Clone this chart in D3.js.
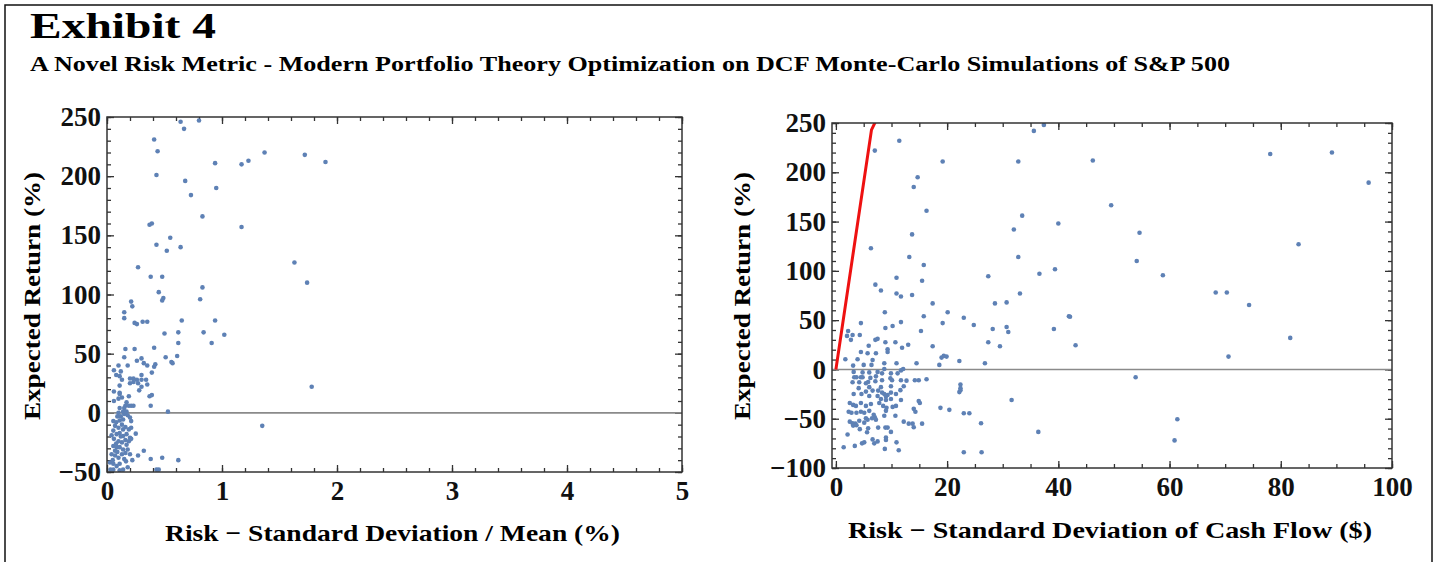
<!DOCTYPE html>
<meta charset="utf-8">
<style>
body { margin: 0; background: #fff; }
svg { font-family: "Liberation Serif", "Times New Roman", serif; }
.tick text { font-family: "Liberation Serif", "Times New Roman", serif; font-weight: bold; font-size: 27px; fill: #111; }
.frame { fill: none; stroke: #333; stroke-width: 1.5; }
.tick line { stroke: #333; stroke-width: 1.3; }
.dot { fill: #5e81b5; }
</style>
<svg width="1438" height="562"></svg>
<script src="https://d3js.org/d3.v7.min.js"></script>
<script>

// left panel: risk = std dev / mean (%), expected return (%)
var leftPoints = [
  [0.64,246],[0.80,247],[0.67,240],[0.41,231],[0.44,221],[1.37,220],[1.72,218],[1.23,213],[1.17,210],[0.94,211],
  [1.90,212],[0.43,201],[0.68,196],[0.95,190],[0.73,184],[0.83,166],[1.17,157],[0.37,159],[0.39,160],[0.55,148],
  [0.43,142],[0.52,137],[0.64,140],[1.63,127],[0.27,123],[0.38,115],[0.48,115],[1.74,110],[0.83,106],[0.45,102],
  [0.81,96],[0.49,97],[0.48,95],[0.21,94],[0.22,90],[0.15,85],[0.15,80],[0.24,76],[0.26,75],[0.31,77],
  [0.35,77],[0.65,78],[0.94,78],[0.50,67],[0.62,68],[0.84,68],[1.02,66],[0.62,59],[0.91,59],[0.16,54],
  [0.24,54],[0.41,55],[0.15,47],[0.51,47],[0.61,48],[0.56,43],[0.57,42],[0.26,44],[0.30,46],[0.32,42],
  [0.06,36],[0.10,40],[0.12,35],[0.18,40],[0.35,40],[0.41,39],[0.42,41],[0.39,34],[0.08,32],[0.11,31],
  [0.13,28],[0.20,29],[0.23,29],[0.26,28],[0.27,25],[0.20,25],[0.23,26],[0.30,32],[0.30,28],[0.34,28],
  [0.35,24],[0.30,22],[0.28,19],[0.06,18],[0.11,23],[0.11,17],[0.11,16],[0.13,13],[0.10,12],[0.19,14],
  [0.39,15],[0.37,14],[0.17,9],[0.16,6],[0.19,6],[0.21,6],[0.23,6],[0.11,4],[0.15,4],[0.38,6],
  [0.06,10],[0.53,1],[0.14,1],[0.12,-3],[0.15,-1],[0.17,1],[0.10,0],[1.35,-11],[1.78,22],
  [0.055,-7],[0.08,-8],[0.11,-6.5],[0.14,-5.6],[0.18,-2],[0.20,-4],[0.21,-7],
  [0.07,-11],[0.10,-12.6],[0.13,-10],[0.16,-12],[0.19,-14],[0.21,-12.6],
  [0.055,-15],[0.084,-18],[0.11,-17],[0.14,-19.6],[0.17,-18],[0.20,-21],[0.25,-17.6],
  [0.06,-22],[0.10,-24],[0.13,-25],[0.16,-23],[0.19,-24],[0.21,-22],
  [0.055,-28],[0.084,-29],[0.11,-29],[0.14,-31],[0.17,-27],[0.07,-32],[0.32,-32],
  [0.04,-35],[0.07,-36],[0.10,-38],[0.13,-35],[0.16,-34],[0.27,-36],[0.22,-40],
  [0.38,-39],[0.48,-38],[0.62,-40],
  [0.026,-42],[0.055,-43],[0.084,-45],[0.11,-43],[0.165,-41],[0.18,-46],[0.14,-48],[0.055,-48],[0.11,-48.5],
  [0.43,-48],[0.45,-48],[0.03,-48],
  [0.09,-3],[0.04,-19],[0.09,-33],[0.15,-39],[0.12,-20],[0.18,-31],[0.05,-40],[0.20,-35],[0.08,-26],[0.14,-14]
];

// right panel: risk = std dev of cash flow ($), expected return (%)
var rightPoints = [
  [35.6,242],[37.4,248],[11.4,232],[7.0,222],[19.2,211],[32.8,211],[14.7,195],[14.0,185],[16.3,161],[33.5,156],
  [32.0,142],[40.0,148],[13.7,137],[6.3,123],[13.2,114],[32.8,114],[15.8,106],[27.4,94.5],[36.6,97],[39.4,101.6],
  [15.5,90],[10.9,93],[7.1,86],[8.1,80],[10.9,77],[11.7,74],[13.7,75.5],[33.1,77],[17.4,67],[28.6,67],[30.7,68],
  [8.8,58],[20.1,58],[15.8,54],[23.0,52.5],[4.5,47],[11.7,48],[19.2,47],[24.8,45],[8.9,42],[10.2,44],
  [30.7,43],[31.0,38],[28.2,41],[39.2,41],[41.9,54],[2.2,39],[3.0,35],[4.3,35],[2.0,34],[2.7,30],
  [15.3,39],[7.1,30],[7.5,31],[5.9,24],[8.9,27.6],[10.7,27.6],[13.0,25],[11.9,22],[9.3,20.5],[9.3,17.7],
  [17.4,23.5],[27.4,27.6],[29.5,23.5],[4.5,17.7],[5.7,16.4],[7.2,16.4],[3.9,10.3],[6.6,9.6],[6.4,4.6],[5.0,4.6],
  [3.1,3.9],[10.9,6.3],[14.5,6.3],[19.0,12],[19.4,13.7],[19.9,13],[18.6,4.6],[22.2,8.6],[26.8,6.3],[1.7,10.3],[8.7,6.3],
  [46.2,212],[78.1,218.6],[89.2,220],[95.8,189.5],[49.5,166.5],[54.6,138.7],[83.2,127],[54.1,110],[58.8,95.5],
  [68.3,78],[70.3,78],[74.3,65.4],[42.1,53.5],[43.1,24.5],[81.7,32],[70.6,13],[53.9,-8],[61.4,-50.5],[60.9,-72],
  [3.2,-2.5],[4.8,-3],[6.0,-3],[7.5,-2.5],[8.7,0.5],[8.3,-4],[9.9,-4],[11.1,-4],[11.7,-1],[12.1,0.5],
  [3.3,-8],[3.7,-8],[4.5,-8],[4.8,-8],[6.2,-8.6],[7.2,-7],[8.3,-11],[9.8,-9],[10.1,-11],[11.7,-11],
  [12.7,-11.4],[14.2,-11],[14.9,-11],[16.3,-10],
  [3.0,-13],[4.2,-13],[5.4,-14],[5.8,-12.7],[7.1,-12],[8.1,-18],[6.0,-18],[9.9,-17],[12.2,-17],[11.6,-21],
  [6.6,-21.5],[5.4,-22.5],[4.1,-19],[7.6,-21.5],
  [22.4,-15.4],[22.4,-19],[22.2,-23],[22.4,-21],
  [3.2,-25],[4.6,-25],[6.0,-27],[7.5,-27],[8.3,-23.5],[8.7,-25],[9.0,-27.5],[9.3,-26],[9.9,-23.5],[10.8,-25],
  [9.9,-30],[11.7,-31],[8.1,-30],[9.0,-31],
  [2.5,-34],[3.1,-36],[3.6,-37],[4.5,-34],[5.4,-37],[6.3,-35],[7.8,-34],[8.5,-37],[9.1,-39],[10.2,-38],
  [10.8,-37],[14.9,-32],[15.1,-34],[14.0,-40],[14.3,-43],
  [18.8,-39],[20.4,-41],[23.0,-44.4],[24.0,-44.4],[31.6,-31],[36.4,-63.4],
  [2.3,-43],[2.8,-44],[3.7,-44],[4.5,-43],[5.1,-44],[6.0,-42],[6.8,-46],[7.0,-48.5],[5.4,-49.5],[8.7,-47],
  [9.0,-42],[10.7,-47],
  [2.5,-53],[3.0,-54.6],[3.5,-55],[4.2,-52],[5.1,-54],[5.7,-51],[6.5,-49.5],[7.2,-51],[3.1,-57],[3.7,-56.6],
  [12.2,-53],[13.1,-55],[13.8,-55],[14.0,-58.6],[15.5,-55],[26.1,-54.6],
  [4.3,-60.6],[5.8,-59.6],[5.6,-63.7],[7.6,-59],[8.9,-59],[9.3,-59],[9.9,-63.4],
  [2.1,-66],[4.7,-75],[5.1,-74],[6.6,-71],[6.9,-75],[7.5,-73],[9.0,-69],[9.0,-71.5],[10.9,-74],[11.3,-82],
  [8.8,-80.6],[3.4,-77.6],[1.4,-79],[23.0,-84],[26.2,-84]
];

// efficient frontier (red line) on the right panel
var frontierRisk = [0, 6.4, 7.0, 7.3];
var frontierReturn = [0, 243, 250, 256];

var leftXTicks = [0, 1, 2, 3, 4, 5];
var leftYTicks = [-50, 0, 50, 100, 150, 200, 250];
var rightXTicks = [0, 20, 40, 60, 80, 100];
var rightYTicks = [-100, -50, 0, 50, 100, 150, 200, 250];

var svg = d3.select("svg");

// outer border
svg.append("rect")
    .attr("x", 5).attr("y", 5)
    .attr("width", 1427).attr("height", 600)
    .attr("fill", "none").attr("stroke", "#111").attr("stroke-width", 1.5);

svg.append("text")
    .attr("x", 30).attr("y", 38)
    .attr("font-size", 35).attr("font-weight", "bold")
    .attr("textLength", 186).attr("lengthAdjust", "spacingAndGlyphs")
    .text("Exhibit 4");

svg.append("text")
    .attr("x", 30).attr("y", 71)
    .attr("font-size", 20).attr("font-weight", "bold")
    .attr("textLength", 1200).attr("lengthAdjust", "spacingAndGlyphs")
    .text("A Novel Risk Metric - Modern Portfolio Theory Optimization on DCF Monte-Carlo Simulations of S&P 500");

function drawPanel(opt) {
  var x = d3.scaleLinear().domain(opt.xDomain).range([opt.left, opt.right]);
  var y = d3.scaleLinear().domain(opt.yDomain).range([opt.bottom, opt.top]);
  var g = svg.append("g");

  var clipId = "clip" + opt.id;
  svg.append("clipPath").attr("id", clipId).append("rect")
      .attr("x", opt.left).attr("y", opt.top)
      .attr("width", opt.right - opt.left).attr("height", opt.bottom - opt.top);

  var xMinor = d3.range(opt.xDomain[0] < 0 ? 0 : opt.xDomain[0], opt.xDomain[1] + 1e-9, opt.xMinorStep);
  var yMinor = d3.range(opt.yDomain[0], opt.yDomain[1] + 1e-9, 10);

  // minor ticks, all four sides
  g.append("g").attr("transform", "translate(0," + opt.bottom + ")")
      .call(d3.axisBottom(x).tickValues(xMinor).tickSize(-4).tickFormat(""));
  g.append("g").attr("transform", "translate(0," + opt.top + ")")
      .call(d3.axisTop(x).tickValues(xMinor).tickSize(-4).tickFormat(""));
  g.append("g").attr("transform", "translate(" + opt.left + ",0)")
      .call(d3.axisLeft(y).tickValues(yMinor).tickSize(-4).tickFormat(""));
  g.append("g").attr("transform", "translate(" + opt.right + ",0)")
      .call(d3.axisRight(y).tickValues(yMinor).tickSize(-4).tickFormat(""));

  // major ticks
  g.append("g").attr("transform", "translate(0," + opt.bottom + ")")
      .call(d3.axisBottom(x).tickValues(opt.xTicks).tickSize(-7).tickPadding(9).tickFormat(d3.format("d")));
  g.append("g").attr("transform", "translate(0," + opt.top + ")")
      .call(d3.axisTop(x).tickValues(opt.xTicks).tickSize(-7).tickFormat(""));
  g.append("g").attr("transform", "translate(" + opt.left + ",0)")
      .call(d3.axisLeft(y).tickValues(opt.yTicks).tickSize(-7).tickPadding(6)
        .tickFormat(function(d) { return d < 0 ? "\u2212" + Math.abs(d) : d; }));
  g.append("g").attr("transform", "translate(" + opt.right + ",0)")
      .call(d3.axisRight(y).tickValues(opt.yTicks).tickSize(-7).tickFormat(""));

  g.selectAll(".domain").remove();

  // zero line
  g.append("line")
      .attr("x1", opt.left).attr("x2", opt.right)
      .attr("y1", y(0)).attr("y2", y(0))
      .attr("stroke", "#8a8a8a").attr("stroke-width", 1.6);

  g.append("g").attr("clip-path", "url(#" + clipId + ")")
    .selectAll("circle")
    .data(opt.points)
    .enter().append("circle")
      .attr("class", "dot")
      .attr("cx", function(d) { return x(d[0]); })
      .attr("cy", function(d) { return y(d[1]); })
      .attr("r", 2.3);

  if (opt.frontierX) {
    var line = d3.line()
        .x(function(d, i) { return x(opt.frontierX[i]); })
        .y(function(d) { return y(d); });
    g.append("path")
        .attr("clip-path", "url(#" + clipId + ")")
        .attr("d", line(opt.frontierY))
        .attr("fill", "none").attr("stroke", "#ee1111").attr("stroke-width", 3);
  }

  g.append("rect").attr("class", "frame")
      .attr("x", opt.left).attr("y", opt.top)
      .attr("width", opt.right - opt.left).attr("height", opt.bottom - opt.top);

  g.append("text")
      .attr("x", (opt.left + opt.right) / 2 + opt.xTitleShift).attr("y", opt.xTitleY)
      .attr("text-anchor", "middle")
      .attr("font-size", 24).attr("font-weight", "bold")
      .attr("textLength", opt.xTitleLen).attr("lengthAdjust", "spacingAndGlyphs")
      .text(opt.xTitle);

  g.append("text")
      .attr("transform", "translate(" + opt.yTitleX + ",296) rotate(-90)")
      .attr("text-anchor", "middle")
      .attr("font-size", 24).attr("font-weight", "bold")
      .attr("textLength", 248).attr("lengthAdjust", "spacingAndGlyphs")
      .text("Expected Return (%)");
}

drawPanel({
  id: "L", points: leftPoints,
  xDomain: [0, 5], yDomain: [-50, 250],
  left: 107, right: 682, top: 117, bottom: 472,
  xTicks: leftXTicks, yTicks: leftYTicks, xMinorStep: 0.2,
  xTitle: "Risk \u2212 Standard Deviation / Mean (%)", xTitleY: 541, xTitleLen: 455, xTitleShift: -2,
  yTitleX: 40
});

drawPanel({
  id: "R", points: rightPoints,
  xDomain: [-0.7, 100], yDomain: [-100, 250],
  left: 832, right: 1392, top: 123, bottom: 468,
  xTicks: rightXTicks, yTicks: rightYTicks, xMinorStep: 5,
  frontierX: frontierRisk, frontierY: frontierReturn,
  xTitle: "Risk \u2212 Standard Deviation of Cash Flow ($)", xTitleY: 538, xTitleLen: 524, xTitleShift: -2,
  yTitleX: 750
});

</script>
